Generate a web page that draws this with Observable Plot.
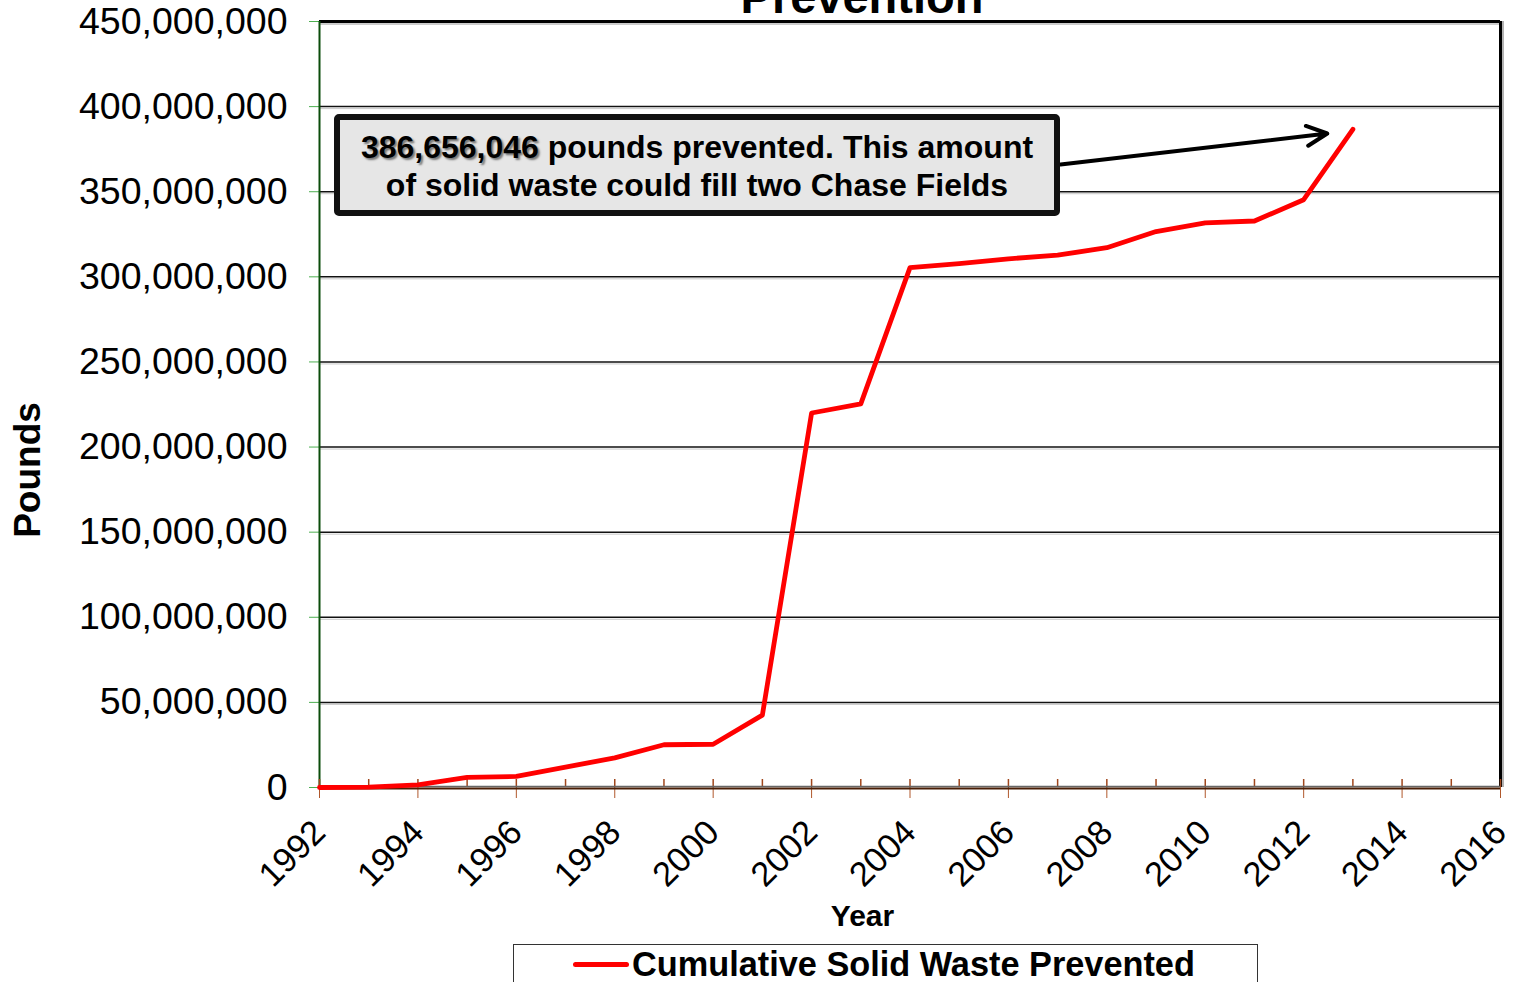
<!DOCTYPE html>
<html>
<head>
<meta charset="utf-8">
<script src="https://cdn.jsdelivr.net/npm/d3@7"></script>
<script src="https://cdn.jsdelivr.net/npm/@observablehq/plot@0.6"></script>
<style>
  html, body { margin: 0; padding: 0; background: white; }
  #wrap { position: relative; width: 1513px; height: 982px; overflow: hidden; font-family: "Liberation Sans", Arial, sans-serif; }
  #title { position: absolute; left: 362px; width: 1000px; top: -27px; text-align: center; font-weight: bold; font-size: 47px; line-height: 1; color: #000; }
  #note { position: absolute; left: 334px; top: 114px; width: 714px; height: 82px; border: 6px solid #111; border-radius: 5px; background: #e6e6e6; text-align: center; font-weight: bold; font-size: 32px; line-height: 38px; padding-top: 8px; box-sizing: content-box; color: #000; }
  #note .num { text-shadow: 2px 2px 2px #777; }
  #ylab { position: absolute; left: 28px; top: 470px; width: 0; height: 0; }
  #ylab div { position: absolute; left: -150px; top: -20px; width: 300px; height: 40px; line-height: 40px; text-align: center; font-weight: bold; font-size: 37px; transform: rotate(-90deg); color: #000; }
  #legend { position: absolute; left: 513px; top: 944px; width: 743px; height: 38px; border: 1px solid #333; border-bottom: none; }
  #legend .sw { position: absolute; left: 59px; top: 17px; width: 56px; height: 5px; background: red; border-radius: 3px; }
  #legend .lt { position: absolute; left: 118px; top: 1px; font-weight: bold; font-size: 34.3px; line-height: 36px; white-space: nowrap; }
</style>
</head>
<body>
<div id="wrap">
  <div id="chart"></div>
  <div id="title">Prevention</div>
  <div id="ylab"><div>Pounds</div></div>
  <div id="note"><span class="num">386,656,046</span> pounds prevented. This amount<br>of solid waste could fill two Chase Fields</div>
  <div id="legend"><div class="sw"></div><div class="lt">Cumulative Solid Waste Prevented</div></div>
</div>
<script>
// Data
const years = [1992,1993,1994,1995,1996,1997,1998,1999,2000,2001,2002,2003,2004,2005,2006,2007,2008,2009,2010,2011,2012,2013];
const poundsMillions = [0,0.2,1.5,6,6.5,12,17.4,25.1,25.4,42.5,220,225.4,305.4,307.8,310.6,312.7,317.1,326.6,331.7,332.8,345.3,386.656046];
const yTicks = [0,50e6,100e6,150e6,200e6,250e6,300e6,350e6,400e6,450e6];
const xTickYears = [1992,1994,1996,1998,2000,2002,2004,2006,2008,2010,2012,2014,2016];
const minorYears = d3.range(1992, 2017);
const seriesName = "Cumulative Solid Waste Prevented";
// annotation arrow: [x1, y1, x2, y2] in data units
const arrowPts = [[2007.06, 366e6, 2012.48, 384.2e6]];

const data = years.map((y, i) => ({year: y, pounds: poundsMillions[i] * 1e6}));

const W = 1513, H = 982, mT = 21, mB = 195, mL = 319, mR = 13;
const plotH = H - mT - mB;
const frameCx = mL + (W - mL - mR) / 2;

const chart = Plot.plot({
  width: W,
  height: H,
  marginTop: mT,
  marginBottom: mB,
  marginLeft: mL,
  marginRight: mR,
  style: {fontFamily: "'Liberation Sans', Arial, sans-serif", background: "white", color: "black", overflow: "visible"},
  x: {domain: [1992, 2016]},
  y: {domain: [0, 450e6]},
  marks: [
    // gridlines with faint shadow
    Plot.ruleY(yTicks.slice(1, -1), {stroke: "#c8c8c8", strokeWidth: 1, dy: 2}),
    Plot.ruleY(yTicks.slice(1, -1), {stroke: "#111", strokeWidth: 1.5}),
    // top and right frame
    Plot.ruleY([450e6], {stroke: "#999", strokeWidth: 1, dy: 2.5}),
    Plot.ruleY([450e6], {stroke: "#000", strokeWidth: 3}),
    Plot.ruleX([2016], {stroke: "#999", strokeWidth: 1.5, dx: 2.5}),
    Plot.ruleX([2016], {stroke: "#000", strokeWidth: 3}),
    // y axis (green)
    Plot.axisY({ticks: yTicks, tickSize: 10, tickPadding: 22, tickFormat: d3.format(","), fontSize: 37.5, stroke: "#4caf50", fill: "#000", label: null}),
    Plot.ruleX([1992], {stroke: "#0b4d0b", strokeWidth: 2}),
    // x axis: minor ticks above, major ticks below
    Plot.ruleX(minorYears, {stroke: "#a0461c", strokeWidth: 1.5, insetTop: plotH - 8}),
    Plot.axisX({ticks: xTickYears, tickSize: 11, tickPadding: 28, tickRotate: -45, tickFormat: d => String(d), fontSize: 34.5, stroke: "#b0582c", fill: "#000", label: null}),
    Plot.ruleY([0], {stroke: "#666", strokeWidth: 1.5, dy: -1}),
    Plot.ruleY([0], {stroke: "#4a1e05", strokeWidth: 2, dy: 1}),
    // series
    Plot.line(data, {x: "year", y: "pounds", stroke: "red", strokeWidth: 4.8, strokeLinejoin: "round"}),
    // annotation arrow
    Plot.arrow(arrowPts, {x1: d => d[0], y1: d => d[1], x2: d => d[2], y2: d => d[3], stroke: "#000", strokeWidth: 4, headLength: 8.5, headAngle: 52}),
    // x axis title
    Plot.text(["Year"], {frameAnchor: "bottom", text: d => d, dx: 862 - frameCx, dy: 138, fontSize: 30, fontWeight: "bold", fill: "#000"})
  ]
});
document.getElementById("chart").appendChild(chart);
</script>
</body>
</html>
